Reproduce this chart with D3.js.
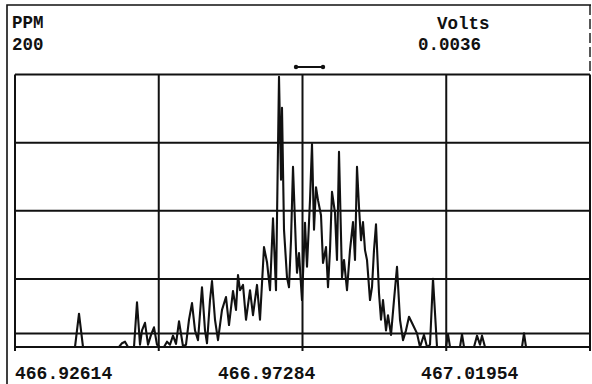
<!DOCTYPE html>
<html><head><meta charset="utf-8">
<script src="https://cdn.jsdelivr.net/npm/d3@7"></script>
<style>
body{margin:0;background:#fff}
text{font-family:"Liberation Mono","Courier New",monospace;font-weight:bold;fill:#111}
</style>
</head><body>
<svg id="chart" width="592" height="384"></svg>
<script>
// ---- data ----
const mzTicks = [466.92614, 466.97284, 467.01954];
const mzDomain = [466.92614, 467.05839];
const voltsMax = 0.0036;
const ppmMax = 200;
const voltGrid = [0, 0.0009, 0.0018, 0.0027, 0.0036];
const thresholdVolts = 0.00018;
const markerMz = [466.99077, 466.99698];
const mz = [466.92614,466.93994,466.94086,466.94178,466.95006,466.95075,466.95144,466.95213,466.95351,466.9542,
466.95489,466.95535,466.95604,466.95673,466.95742,466.95811,466.9588,466.95949,466.96041,466.9611,
466.96179,466.96248,466.96317,466.96386,466.96478,466.96547,466.96616,466.96685,466.96754,466.96823,
466.96915,466.96984,466.9703,466.97099,466.97145,466.97214,466.97283,466.97375,466.97467,466.97536,
466.97628,466.97697,466.97743,466.97789,466.97858,466.97927,466.98019,466.98088,466.9818,466.98249,
466.98341,466.9841,466.98479,466.98548,466.98617,466.98686,466.98732,466.98755,466.98801,466.9887,
466.98916,466.98962,466.99008,466.99077,466.991,466.99146,466.99215,466.99284,466.9933,466.99399,
466.99445,466.99491,466.99537,466.99583,466.99652,466.99698,466.99767,466.99813,466.99859,466.99905,
466.99974,467.0002,467.00066,467.00135,467.00181,467.0025,467.00319,467.00388,467.00434,467.0048,
467.00526,467.00572,467.00618,467.00664,467.0071,467.00779,467.00825,467.00871,467.00917,467.00986,
467.01032,467.01078,467.01147,467.01193,467.01262,467.01331,467.014,467.01469,467.01538,467.01607,
467.01676,467.01768,467.0186,467.01929,467.02021,467.0209,467.02159,467.02228,467.0232,467.02527,
467.02573,467.02619,467.02849,467.02895,467.02941,467.03171,467.0324,467.03309,467.03355,467.03424,
467.04275,467.04321,467.04367,467.05839];
const volts = [0,0,0.00044,0,0,0.00005,0.00007,0,0,0.00059,
0.00003,0.00022,0.00032,0.00003,0.00016,0.00026,0.00003,0,0,0.00007,
0.00003,0.00015,0.00004,0.00034,0.00001,0.00003,0.00036,0.00058,0.00022,0.00009,
0.00079,0.00022,0.00005,0.00062,0.00087,0.00036,0.00009,0.00049,0.00066,0.00029,
0.00074,0.00049,0.00095,0.00075,0.00082,0.00036,0.00075,0.00042,0.00082,0.00036,
0.00132,0.00112,0.00075,0.0017,0.00075,0.00357,0.00221,0.00316,0.00155,0.00092,
0.00079,0.00141,0.00238,0.00128,0.00098,0.00124,0.00062,0.00164,0.00106,0.00194,
0.00268,0.00155,0.00211,0.00194,0.00174,0.00111,0.00132,0.00079,0.00128,0.00205,
0.00177,0.00115,0.00258,0.00092,0.00115,0.00075,0.00128,0.00165,0.00115,0.00238,
0.00185,0.00141,0.00165,0.00128,0.00115,0.00062,0.00079,0.00128,0.00162,0.00071,
0.00036,0.00062,0.00022,0.00042,0.00016,0.00062,0.00106,0.00036,0.00009,0.00022,
0.0004,0.00029,0.00018,0,0.00016,0,0.00003,0.0009,0,0,
0.00017,0,0,0.00017,0,0,0.00015,0.00003,0.00015,0,
0,0.00018,0,0];

// ---- layout ----
const svg = d3.select("#chart");
const L = 15, R = 590, T = 74.5, B = 347;
const x = d3.scaleLinear().domain(mzDomain).range([L, R]);
const y = d3.scaleLinear().domain([0, voltsMax]).range([B, T]);

// outer frame
svg.append("path").attr("d", `M7,384 L7,5 L591,5`).attr("fill","none")
  .attr("stroke","#111").attr("stroke-width",1.6);
svg.append("line").attr("x1",590).attr("x2",590).attr("y1",5).attr("y2",T)
  .attr("stroke","#111").attr("stroke-width",1.4).attr("stroke-dasharray","10,4");

// horizontal grid
const g = svg.append("g").attr("stroke","#111").attr("stroke-width",2);
voltGrid.forEach(v => g.append("line").attr("x1",L).attr("x2",R).attr("y1",y(v)).attr("y2",y(v)));
g.append("line").attr("x1",L).attr("x2",R).attr("y1",y(thresholdVolts)).attr("y2",y(thresholdVolts));
// vertical grid (quarters of the span)
const vgrid = d3.range(5).map(i => mzDomain[0] + i*(mzDomain[1]-mzDomain[0])/4);
vgrid.forEach(v => g.append("line").attr("x1",x(v)).attr("x2",x(v)).attr("y1",T).attr("y2",B+4));

// trace
const line = d3.line().x(d => x(d[0])).y(d => y(d[1]));
svg.append("path").datum(mz.map((m,i)=>[m, volts[i]]))
  .attr("d", line).attr("fill","none").attr("stroke","#111")
  .attr("stroke-width",2.1).attr("stroke-linejoin","round");

// marker
const my = 67;
svg.append("line").attr("x1",x(markerMz[0])).attr("x2",x(markerMz[1])).attr("y1",my).attr("y2",my)
  .attr("stroke","#111").attr("stroke-width",2);
markerMz.forEach(m => svg.append("circle").attr("cx",x(m)).attr("cy",my).attr("r",2.2).attr("fill","#111"));

// x labels
svg.selectAll("text.xt").data(mzTicks).join("text").attr("class","xt")
  .attr("x", d => x(d)).attr("y",378.5).attr("font-size",18).text(d => d.toFixed(5));

// top labels
svg.append("text").attr("x",12).attr("y",28).attr("font-size",17.5).text("PPM");
svg.append("text").attr("x",12).attr("y",50).attr("font-size",17.5).text(ppmMax);
svg.append("text").attr("x",437).attr("y",29).attr("font-size",17.5).text("Volts");
svg.append("text").attr("x",418).attr("y",50).attr("font-size",17.5).text(voltsMax.toFixed(4));
</script>
</body></html>
